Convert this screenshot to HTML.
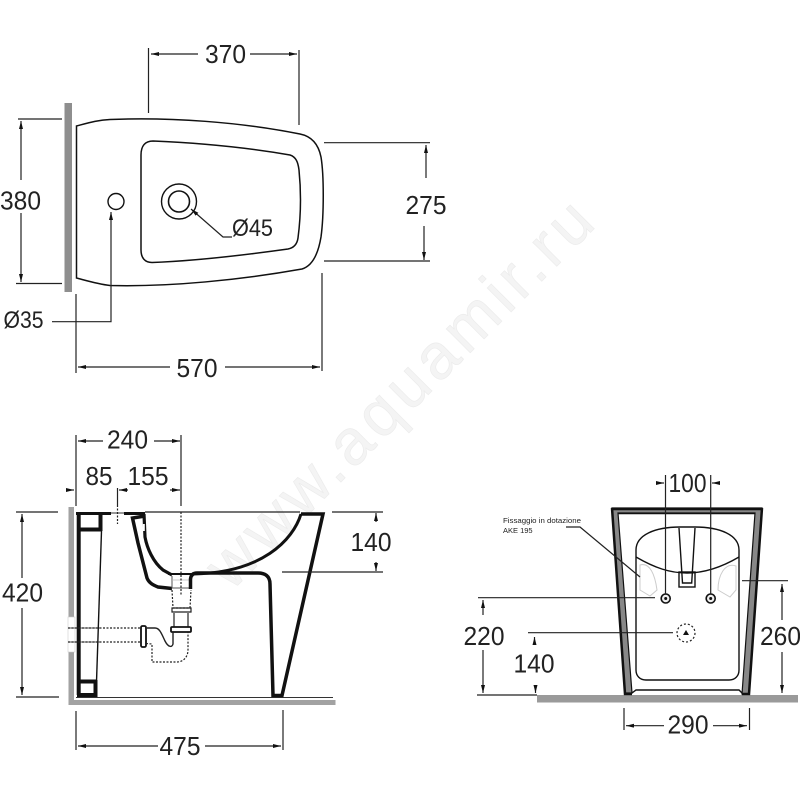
<!DOCTYPE html>
<html>
<head>
<meta charset="utf-8">
<style>
html,body{margin:0;padding:0;background:#fff;width:800px;height:800px;overflow:hidden}
svg{display:block}
text{font-family:"Liberation Sans",sans-serif;fill:#222}
.d{font-size:26px;text-anchor:middle}
.l{stroke:#222;stroke-width:1.2;fill:none}
.b{stroke:#111;fill:none}
.dash{stroke:#222;stroke-width:1.2;fill:none;stroke-dasharray:2 1.5}
</style>
</head>
<body>
<svg width="800" height="800" viewBox="0 0 800 800" xmlns="http://www.w3.org/2000/svg">
<defs>
<marker id="a" viewBox="0 0 8 4" refX="8" refY="2" markerWidth="8" markerHeight="4" markerUnits="userSpaceOnUse" orient="auto-start-reverse"><path d="M0,0L8,2L0,4z" fill="#111"/></marker>
</defs>
<rect width="800" height="800" fill="#fff"/>

<!-- watermark -->
<text x="0" y="0" transform="translate(231,592) rotate(-45)" font-size="64" textLength="518" lengthAdjust="spacing" style="fill:#f4f4f4;stroke:#ececec;stroke-width:.7">www.aquamir.ru</text>

<!-- TOP VIEW -->
<rect x="64.500" y="103" width="7.500" height="189" fill="#8e8e8e"/>
<path class="b" stroke-width="1.500" d="M76.500,126 C88,123 98,120 110,119.500 C170,117 240,122 300,134 C310,136 318,142 321,157 C324,175 324,215 321,237 C318,255 312,266 302,269 C240,280 170,287 110,285.500 C98,284 88,281 76.500,278 Z"/>
<path class="b" stroke-width="1.500" d="M141,155 C141,146 145,141 153,141 C200,143 250,148 290,155 C296,157 298,162 299,170 C301,190 301,215 298,238 C297,245 293,248 288,249 C245,255 195,261 152,262.500 C145,262.500 141,258 141,250 Z"/>
<circle class="b" stroke-width="1.400" cx="179" cy="201.500" r="17.500"/>
<circle class="b" stroke-width="1.600" cx="179" cy="201.500" r="10.500"/>
<circle class="b" stroke-width="1.400" cx="116" cy="201.500" r="8"/>

<path class="l" d="M148.500,48V113M299,50V125"/>
<path class="l" marker-end="url(#a)" d="M198,54H151"/>
<path class="l" marker-end="url(#a)" d="M250,54H297"/>
<text class="d" x="225.500" y="63" textLength="41" lengthAdjust="spacingAndGlyphs">370</text>

<path class="l" d="M18,119H62M16,283.500H62"/>
<path class="l" marker-end="url(#a)" d="M21,180V121"/>
<path class="l" marker-end="url(#a)" d="M21,213V282"/>
<text class="d" x="20.500" y="209.500" textLength="41" lengthAdjust="spacingAndGlyphs">380</text>

<path class="l" d="M324,142.700H430M324,261H430"/>
<path class="l" marker-end="url(#a)" d="M426,178V145"/>
<path class="l" marker-end="url(#a)" d="M424,226V260"/>
<text class="d" x="426" y="214" textLength="41" lengthAdjust="spacingAndGlyphs">275</text>

<path class="l" d="M76,294V373M322,273V371"/>
<path class="l" marker-end="url(#a)" d="M170,367H78"/>
<path class="l" marker-end="url(#a)" d="M225,367H320"/>
<text class="d" x="197" y="377" textLength="41" lengthAdjust="spacingAndGlyphs">570</text>

<text x="3.500" y="328" style="font-size:24px" textLength="40" lengthAdjust="spacingAndGlyphs">Ø35</text>
<path class="l" marker-end="url(#a)" d="M52,321.700H111V212"/>
<text x="232" y="236" style="font-size:24px" textLength="41" lengthAdjust="spacingAndGlyphs">Ø45</text>
<path class="l" marker-end="url(#a)" d="M232,237H223L191,209"/>

<!-- SIDE VIEW -->
<rect x="68.500" y="507" width="5.500" height="198" fill="#a2a2a2"/>
<rect x="68.500" y="700" width="267" height="5" fill="#a2a2a2"/>
<rect x="68" y="617" width="7" height="35" fill="#fff" stroke="#ccc" stroke-width=".6"/>
<path d="M76,697.500H333" stroke="#333" stroke-width="1"/>

<path class="b" stroke-width="3" d="M76,513.500H111"/>
<path d="M111,513H124" stroke="#999" stroke-width="2"/>
<path class="b" stroke-width="3" d="M124,513.500H145"/>
<path d="M145,512H300" stroke="#222" stroke-width="1.200"/>
<path class="b" stroke-width="4" d="M78.700,512V695"/>
<path class="b" stroke-width="4" d="M77,529.500H102M100.500,512V531M77,681.500H97M77,695H97M95.500,680V697"/>
<path d="M101.500,531L96.500,682" stroke="#111" stroke-width="1.400" fill="none"/>

<!-- channel -->
<path class="b" stroke-width="3.500" d="M145,516L132.500,518L138,543L147,578C149,583 153,585 158,587L172,588.500"/>
<path class="b" stroke-width="3.200" d="M144,514L145,537C147,548 153,562 163,570L172,575"/>
<path d="M143.800,524V531" stroke="#fff" stroke-width="2"/>
<path d="M172,576V588H190" fill="none" stroke="#555" stroke-width="1"/>
<path d="M172,580H190" stroke="#bbb" stroke-width=".8"/>
<path class="b" stroke-width="2" d="M168,574H192"/>

<!-- bowl + rim + leg -->
<path class="b" stroke-width="3.500" d="M301,514H323L282,695.500H273L270,584C270,576 265,573 258,573H197C193,573 191,575 190.500,579V589"/>
<path class="b" stroke-width="3" d="M301,514C293,540 262,573 193,574"/>

<!-- siphon -->
<path class="dash" d="M172,590L173,608H190L191,590"/>
<path class="l" d="M172,608H191V612H172ZM174,613V628M188,613V628"/>
<rect x="171" y="627" width="20" height="5" rx="1" fill="#fff" stroke="#111" stroke-width="1.800"/>
<rect x="141" y="626" width="5" height="21" rx="1.500" fill="#fff" stroke="#111" stroke-width="1.800"/>
<path class="l" d="M147,628H155C160,628 162,635 165,641C168,647 172,648 173,644V632" style="stroke-width:1.400"/>
<path class="dash" d="M146,643.500L152,644V662H177C184,662 188,656 188,650V632"/>
<path class="dash" d="M68,628H141M68,642H141"/>
<path class="l" d="M68,628H100M68,642H100" style="stroke-width:.8"/>
<path class="dash" d="M181,512V595"/>
<path class="dash" d="M117.500,505V524"/>

<path class="l" d="M76,435V506M181,435V506"/>
<path class="l" marker-end="url(#a)" d="M103,441H78"/>
<path class="l" marker-end="url(#a)" d="M154,441H180"/>
<text class="d" x="127.500" y="448.500" textLength="41" lengthAdjust="spacingAndGlyphs">240</text>
<text class="d" x="99" y="485" textLength="27" lengthAdjust="spacingAndGlyphs">85</text>
<text class="d" x="148" y="485" textLength="41" lengthAdjust="spacingAndGlyphs">155</text>
<path class="l" marker-end="url(#a)" d="M66,490H74"/>
<path class="l" d="M117.500,488V505"/>
<path class="l" marker-end="url(#a)" d="M128,490H119"/>
<path class="l" marker-end="url(#a)" d="M170,490H180"/>

<path class="l" d="M16,512H58M16,697H59"/>
<path class="l" marker-end="url(#a)" d="M22,578V514"/>
<path class="l" marker-end="url(#a)" d="M22,608V695"/>
<text class="d" x="22.500" y="601.500" textLength="41" lengthAdjust="spacingAndGlyphs">420</text>

<path class="l" d="M76,711V750M283,710V750"/>
<path class="l" marker-end="url(#a)" d="M158,746H78"/>
<path class="l" marker-end="url(#a)" d="M205,746H281"/>
<text class="d" x="180" y="755" textLength="41" lengthAdjust="spacingAndGlyphs">475</text>

<path class="l" d="M332,512H383M282,572H383"/>
<path class="l" marker-end="url(#a)" d="M376,522V513"/>
<path class="l" marker-end="url(#a)" d="M376,562V571"/>
<text class="d" x="371" y="551" textLength="41" lengthAdjust="spacingAndGlyphs">140</text>

<!-- FRONT VIEW -->
<rect x="537" y="695" width="261" height="7.500" fill="#9a9a9a"/>
<path d="M612,508H762L749,694H742L755,513H618L632,693H625Z" fill="#888" stroke="#111" stroke-width="1.200"/>
<path class="b" stroke-width="2.500" d="M612,509H762M612,508L625,694H632M762,508L749,694H742"/>
<path class="b" stroke-width="1.400" d="M618,513.500H755"/>
<path class="b" stroke-width="1.400" d="M632,693L636,690H739L742,693"/>
<path class="b" stroke-width="1.400" d="M636,557V550C636,535 655,527 680,527H695C720,527 739,535 739,550V670C739,676 735,680 729,680H646C640,680 636,676 636,670Z"/>
<path class="b" stroke-width="1.400" d="M636,557C655,568 670,573 687,573C705,573 722,567 739,557"/>
<path class="b" stroke-width="1.400" d="M679,528L682.500,583H691.700L695,528"/>
<rect x="679" y="572" width="16" height="15" fill="none" stroke="#111" stroke-width="1.400"/>
<path d="M640,565C650,562 655,575 657,590L650,596L640,590ZM736,566C725,562 718,575 718,590L730,597L736,590Z" fill="none" stroke="#ccc" stroke-width="1"/>
<circle cx="665.700" cy="598.500" r="4.500" fill="#eee" stroke="#111" stroke-width="1.600"/>
<circle cx="710.700" cy="598.500" r="4.500" fill="#eee" stroke="#111" stroke-width="1.600"/>
<circle cx="665.700" cy="598.500" r="1.500" fill="#111"/>
<circle cx="710.700" cy="598.500" r="1.500" fill="#111"/>
<circle cx="686" cy="633" r="9" fill="none" stroke="#222" stroke-width="1.200" stroke-dasharray="2 2"/>
<path d="M686,630L689,635H683Z" fill="#111"/>

<path class="l" d="M665.500,475V594M710.700,475V594"/>
<path class="l" marker-end="url(#a)" d="M657,483H664"/>
<path class="l" marker-end="url(#a)" d="M720,483H712"/>
<text class="d" x="687.500" y="492" textLength="38" lengthAdjust="spacingAndGlyphs">100</text>

<path class="l" d="M478,597.700H655"/>
<path class="l" marker-end="url(#a)" d="M483,615V600"/>
<path class="l" marker-end="url(#a)" d="M483,650V693"/>
<text class="d" x="484" y="645" textLength="41" lengthAdjust="spacingAndGlyphs">220</text>

<path class="l" d="M528,632.700H673M477,695H537"/>
<path class="l" marker-end="url(#a)" d="M534.500,644V637"/>
<path class="l" marker-end="url(#a)" d="M535.500,686V693"/>
<text class="d" x="534" y="672.500" textLength="41" lengthAdjust="spacingAndGlyphs">140</text>

<path class="l" d="M742,580.700H788"/>
<path class="l" marker-end="url(#a)" d="M782,620V584"/>
<path class="l" marker-end="url(#a)" d="M782,652V693"/>
<text class="d" x="780.500" y="645" textLength="41" lengthAdjust="spacingAndGlyphs">260</text>

<path class="l" d="M624,708V730M749.500,708V730"/>
<path class="l" marker-end="url(#a)" d="M664,725.700H626"/>
<path class="l" marker-end="url(#a)" d="M713,725.700H747"/>
<text class="d" x="688" y="733.500" textLength="41" lengthAdjust="spacingAndGlyphs">290</text>

<text x="503" y="523" style="font-size:7.500px" textLength="78" lengthAdjust="spacingAndGlyphs">Fissaggio in dotazione</text>
<text x="503" y="533" style="font-size:7.500px">AKE 195</text>
<path class="l" d="M566,527H580L640,577"/>
</svg>
</body>
</html>
